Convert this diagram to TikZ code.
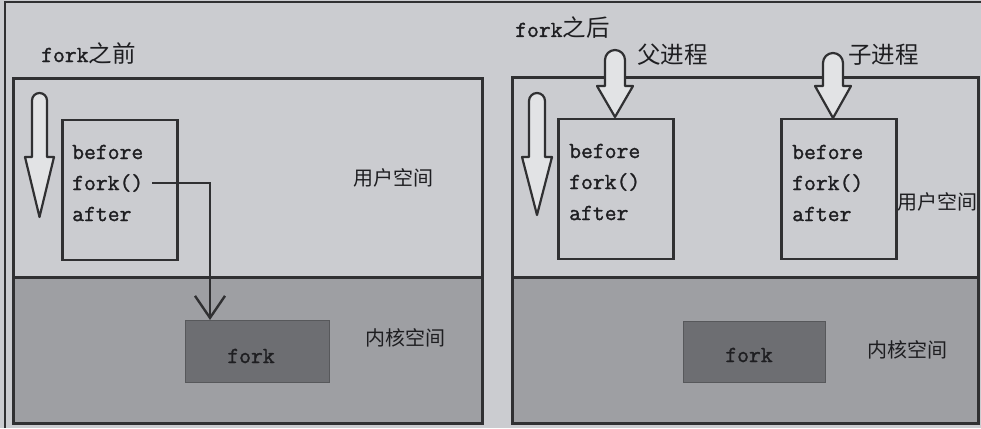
\documentclass[tikz,border=0pt]{standalone}
\usepackage{fontspec}
\newfontfamily\cjk{Noto Sans CJK SC}
\newfontfamily\codefont[FakeBold=1.3]{Latin Modern Mono}
\usetikzlibrary{arrows.meta}
\definecolor{bgc}{RGB}{203,204,208}
\definecolor{kerc}{RGB}{158,159,163}
\definecolor{kbox}{RGB}{109,110,114}
\definecolor{ink}{RGB}{48,48,50}
\definecolor{txt}{RGB}{30,30,33}
\begin{document}
\begin{tikzpicture}[x=1pt,y=-1pt,
  panel/.style={draw=ink,line width=3pt},
  codebox/.style={draw=ink,line width=2.6pt,fill=bgc,inner sep=0pt},
  kernbox/.style={fill=kbox,draw=kbox!80!black,line width=1pt,inner sep=0pt},
  code/.style={font=\codefont\fontsize{23}{28}\selectfont,text=txt,inner sep=0pt,anchor=west},
  lab/.style={font=\cjk\fontsize{20}{24}\selectfont,text=txt,inner sep=0pt,anchor=west},
  biglab/.style={font=\cjk\fontsize{23.5}{28}\selectfont,text=txt,inner sep=0pt,anchor=west},
  fatarrow/.style={draw=ink,line width=2.2pt,fill=bgc!55!white,line join=round},
  link/.style={draw=ink,line width=2.4pt,-{Straight Barb[length=22pt,width=30pt,line width=2.4pt]}}]
\path[use as bounding box,fill=bgc] (0,0) rectangle (981,428);
\draw[ink,line width=1.2pt] (5,428) -- (5,2) -- (981,2);

% ---------- left panel ----------
\fill[kerc] (13,277) rectangle (482,423);
\draw[panel] (13,78) rectangle (482,423);
\draw[panel] (13,277) -- (482,277);
\node[biglab] (tL) at (41,53) {{\codefont\fontsize{23}{28}\selectfont fork}之前};
\node[codebox,minimum width=115pt,minimum height=140pt] (boxL) at (120,190) {};
\node[code] (bL) at (72,152) {before};
\node[code] (fL) at (72,183) {fork()};
\node[code] (aL) at (72,214) {after};
\draw[fatarrow] (25,157) -- (32,157) -- (32,100.5) arc[start angle=180,end angle=360,radius=7.5] -- (47,157) -- (54,157) -- (39.5,217) -- cycle;
\node[lab] (uL) at (353,178) {用户空间};
\node[lab] (kL) at (365,338) {内核空间};
\node[kernbox,minimum width=144pt,minimum height=62pt] (kbL) at (257,351) {};
\node[code,anchor=center] (kfL) at (251,356) {fork};
\coordinate (kt) at (210,320);
\draw[link] ([xshift=9pt]fL.east) -| (kt);

% ---------- right panel ----------
\fill[kerc] (512,277) rectangle (978,423);
\draw[panel] (512,77) rectangle (978,423);
\draw[panel] (512,277) -- (978,277);
\node[biglab] (tR) at (515,28) {{\codefont\fontsize{23}{28}\selectfont fork}之后};
\node[biglab] (pR) at (637,55) {父进程};
\node[biglab] (cR) at (848,55) {子进程};
\node[codebox,minimum width=115pt,minimum height=140pt] (boxP) at (616,189) {};
\node[codebox,minimum width=115pt,minimum height=140pt] (boxC) at (839,189) {};
\node[code] (bP) at (569,151) {before};
\node[code] (fP) at (569,182) {fork()};
\node[code] (aP) at (569,213) {after};
\node[code] (bC) at (792,152) {before};
\node[code] (fC) at (792,183) {fork()};
\node[code] (aC) at (792,214) {after};
\draw[fatarrow] (522,157) -- (529,157) -- (529,101) arc[start angle=180,end angle=360,radius=8] -- (545,157) -- (552,157) -- (537,215) -- cycle;
\draw[fatarrow] (597,86) -- (605,86) -- (605,60) arc[start angle=180,end angle=360,radius=10] -- (625,86) -- (633,86) -- (615,117) -- cycle;
\draw[fatarrow] (815,86) -- (823,86) -- (823,63) arc[start angle=180,end angle=360,radius=10] -- (843,86) -- (851,86) -- (833,118) -- cycle;
\node[lab] (uR) at (897,202) {用户空间};
\node[lab] (kR) at (867,350) {内核空间};
\node[kernbox,minimum width=142pt,minimum height=61pt] (kbR) at (754,352) {};
\node[code,anchor=center] (kfR) at (749,355) {fork};
\end{tikzpicture}
\end{document}
